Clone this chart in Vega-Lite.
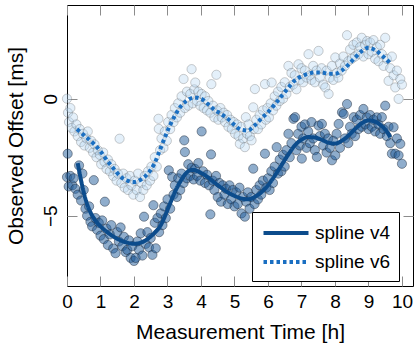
{
  "$schema": "https://vega.github.io/schema/vega-lite/v6.json",
  "width": 346,
  "height": 281,
  "autosize": "none",
  "padding": {"left": 67, "top": 5, "right": 2, "bottom": 59},
  "background": "white",
  "config": {
    "view": {"stroke": "black", "strokeWidth": 1},
    "font": "Liberation Sans",
    "axis": {"labelFont": "Liberation Sans", "titleFont": "Liberation Sans", "labelFontSize": 19, "titleFontSize": 21, "titleFontWeight": "normal", "labelColor": "black", "titleColor": "black", "grid": false, "domain": false, "tickColor": "#8c8c8c", "tickSize": -10, "tickWidth": 1}
  },
  "datasets": {
    "v4": [
      {"x":0.00,"y":-3.35},{"x":0.02,"y":-2.35},{"x":0.05,"y":-3.75},{"x":0.10,"y":-3.30},{"x":0.16,"y":-3.70},{"x":0.20,"y":-3.40},{"x":0.25,"y":-3.85},{"x":0.32,"y":-4.10},{"x":0.36,"y":-2.85},{"x":0.42,"y":-4.35},{"x":0.46,"y":-3.20},{"x":0.50,"y":-3.90},{"x":0.55,"y":-4.70},{"x":0.60,"y":-5.00},{"x":0.66,"y":-4.60},{"x":0.70,"y":-5.26},{"x":0.75,"y":-5.45},{"x":0.80,"y":-3.48},{"x":0.85,"y":-5.10},{"x":0.90,"y":-5.60},{"x":0.95,"y":-5.30},{"x":1.00,"y":-5.85},{"x":1.05,"y":-5.20},{"x":1.10,"y":-6.00},{"x":1.13,"y":-4.40},{"x":1.18,"y":-5.55},{"x":1.22,"y":-6.25},{"x":1.28,"y":-5.80},{"x":1.32,"y":-5.40},{"x":1.38,"y":-6.40},{"x":1.45,"y":-6.60},{"x":1.50,"y":-5.70},{"x":1.55,"y":-6.10},{"x":1.60,"y":-5.50},{"x":1.65,"y":-6.30},{"x":1.70,"y":-5.90},{"x":1.75,"y":-6.55},{"x":1.80,"y":-6.46},{"x":1.85,"y":-6.05},{"x":1.90,"y":-6.80},{"x":1.95,"y":-6.30},{"x":2.00,"y":-6.93},{"x":2.05,"y":-6.80},{"x":2.10,"y":-6.10},{"x":2.15,"y":-6.45},{"x":2.20,"y":-5.75},{"x":2.25,"y":-6.70},{"x":2.30,"y":-5.04},{"x":2.35,"y":-6.20},{"x":2.40,"y":-5.70},{"x":2.45,"y":-6.35},{"x":2.50,"y":-5.95},{"x":2.55,"y":-6.67},{"x":2.58,"y":-4.55},{"x":2.62,"y":-5.30},{"x":2.65,"y":-6.39},{"x":2.70,"y":-5.10},{"x":2.75,"y":-5.70},{"x":2.80,"y":-4.90},{"x":2.85,"y":-5.40},{"x":2.90,"y":-4.60},{"x":2.95,"y":-5.10},{"x":3.00,"y":-4.30},{"x":3.04,"y":-3.06},{"x":3.08,"y":-4.70},{"x":3.14,"y":-3.34},{"x":3.18,"y":-4.10},{"x":3.22,"y":-3.70},{"x":3.28,"y":-4.20},{"x":3.32,"y":-3.40},{"x":3.38,"y":-3.90},{"x":3.42,"y":-3.20},{"x":3.48,"y":-3.60},{"x":3.50,"y":-1.78},{"x":3.52,"y":-2.28},{"x":3.58,"y":-3.40},{"x":3.62,"y":-2.80},{"x":3.68,"y":-3.30},{"x":3.72,"y":-2.95},{"x":3.78,"y":-3.45},{"x":3.82,"y":-3.00},{"x":3.88,"y":-3.30},{"x":3.92,"y":-2.75},{"x":3.98,"y":-3.50},{"x":4.02,"y":-1.40},{"x":4.06,"y":-3.10},{"x":4.12,"y":-3.60},{"x":4.18,"y":-3.25},{"x":4.24,"y":-3.70},{"x":4.28,"y":-4.94},{"x":4.30,"y":-2.38},{"x":4.35,"y":-3.50},{"x":4.40,"y":-3.90},{"x":4.45,"y":-3.30},{"x":4.50,"y":-4.20},{"x":4.55,"y":-3.60},{"x":4.60,"y":-4.40},{"x":4.65,"y":-3.70},{"x":4.70,"y":-4.10},{"x":4.75,"y":-3.85},{"x":4.80,"y":-4.50},{"x":4.85,"y":-3.70},{"x":4.90,"y":-4.30},{"x":4.95,"y":-3.90},{"x":5.00,"y":-4.60},{"x":5.05,"y":-4.00},{"x":5.10,"y":-4.50},{"x":5.15,"y":-3.80},{"x":5.21,"y":-4.90},{"x":5.25,"y":-4.20},{"x":5.31,"y":-5.04},{"x":5.35,"y":-4.40},{"x":5.40,"y":-4.00},{"x":5.45,"y":-4.70},{"x":5.50,"y":-4.20},{"x":5.56,"y":-2.99},{"x":5.60,"y":-4.50},{"x":5.65,"y":-3.90},{"x":5.70,"y":-4.30},{"x":5.75,"y":-3.70},{"x":5.80,"y":-4.10},{"x":5.85,"y":-3.50},{"x":5.91,"y":-2.35},{"x":5.95,"y":-3.80},{"x":6.00,"y":-3.40},{"x":6.05,"y":-3.90},{"x":6.10,"y":-3.10},{"x":6.15,"y":-3.60},{"x":6.20,"y":-2.90},{"x":6.26,"y":-2.07},{"x":6.30,"y":-3.20},{"x":6.35,"y":-2.60},{"x":6.40,"y":-3.10},{"x":6.45,"y":-2.40},{"x":6.50,"y":-2.90},{"x":6.55,"y":-2.20},{"x":6.61,"y":-1.50},{"x":6.65,"y":-2.50},{"x":6.70,"y":-1.90},{"x":6.76,"y":-0.86},{"x":6.81,"y":-0.79},{"x":6.85,"y":-2.20},{"x":6.90,"y":-1.50},{"x":6.95,"y":-2.00},{"x":7.00,"y":-1.20},{"x":7.01,"y":-2.56},{"x":7.05,"y":-1.70},{"x":7.10,"y":-1.10},{"x":7.15,"y":-2.10},{"x":7.20,"y":-1.40},{"x":7.25,"y":-1.90},{"x":7.30,"y":-1.00},{"x":7.35,"y":-1.70},{"x":7.40,"y":-2.20},{"x":7.46,"y":-2.49},{"x":7.51,"y":-1.15},{"x":7.55,"y":-1.60},{"x":7.61,"y":-1.08},{"x":7.65,"y":-2.00},{"x":7.70,"y":-1.50},{"x":7.75,"y":-2.30},{"x":7.80,"y":-1.70},{"x":7.85,"y":-2.10},{"x":7.91,"y":-2.63},{"x":7.95,"y":-1.80},{"x":8.01,"y":-2.42},{"x":8.05,"y":-1.50},{"x":8.11,"y":-1.08},{"x":8.15,"y":-2.10},{"x":8.21,"y":-0.58},{"x":8.26,"y":-0.65},{"x":8.30,"y":-1.70},{"x":8.36,"y":-0.23},{"x":8.40,"y":-1.90},{"x":8.45,"y":-1.20},{"x":8.50,"y":-1.50},{"x":8.56,"y":-0.79},{"x":8.60,"y":-1.60},{"x":8.65,"y":-0.90},{"x":8.70,"y":-1.30},{"x":8.75,"y":-0.70},{"x":8.80,"y":-1.20},{"x":8.85,"y":-0.44},{"x":8.90,"y":-1.10},{"x":8.95,"y":-0.80},{"x":9.00,"y":-1.30},{"x":9.05,"y":-0.70},{"x":9.10,"y":-1.20},{"x":9.15,"y":-0.90},{"x":9.20,"y":-1.40},{"x":9.25,"y":-0.80},{"x":9.30,"y":-1.10},{"x":9.35,"y":-1.50},{"x":9.40,"y":-0.79},{"x":9.45,"y":-1.30},{"x":9.50,"y":-0.30},{"x":9.55,"y":-1.60},{"x":9.60,"y":-1.20},{"x":9.65,"y":-1.90},{"x":9.70,"y":-2.35},{"x":9.75,"y":-1.22},{"x":9.80,"y":-2.35},{"x":9.85,"y":-1.70},{"x":9.90,"y":-2.42},{"x":9.95,"y":-1.93},{"x":10.00,"y":-2.78}
    ],
    "v6": [
      {"x":0.00,"y":0.00},{"x":0.03,"y":-0.60},{"x":0.06,"y":-1.00},{"x":0.10,"y":-0.40},{"x":0.14,"y":-1.25},{"x":0.18,"y":-0.80},{"x":0.22,"y":-1.40},{"x":0.28,"y":-1.10},{"x":0.32,"y":-1.60},{"x":0.38,"y":-1.30},{"x":0.42,"y":-1.85},{"x":0.48,"y":-1.50},{"x":0.52,"y":-2.00},{"x":0.58,"y":-1.70},{"x":0.62,"y":-1.40},{"x":0.68,"y":-2.10},{"x":0.72,"y":-1.80},{"x":0.78,"y":-2.30},{"x":0.82,"y":-1.95},{"x":0.88,"y":-2.50},{"x":0.92,"y":-2.20},{"x":0.98,"y":-2.40},{"x":1.02,"y":-2.80},{"x":1.08,"y":-2.30},{"x":1.12,"y":-2.70},{"x":1.18,"y":-3.00},{"x":1.22,"y":-2.60},{"x":1.28,"y":-3.10},{"x":1.32,"y":-2.80},{"x":1.38,"y":-3.30},{"x":1.42,"y":-3.00},{"x":1.48,"y":-3.50},{"x":1.52,"y":-3.20},{"x":1.57,"y":-1.71},{"x":1.62,"y":-3.60},{"x":1.68,"y":-3.20},{"x":1.72,"y":-3.80},{"x":1.78,"y":-3.40},{"x":1.82,"y":-3.90},{"x":1.88,"y":-3.30},{"x":1.92,"y":-3.70},{"x":1.98,"y":-4.10},{"x":2.02,"y":-3.50},{"x":2.08,"y":-3.90},{"x":2.12,"y":-3.20},{"x":2.18,"y":-4.20},{"x":2.22,"y":-3.60},{"x":2.28,"y":-3.90},{"x":2.32,"y":-3.30},{"x":2.38,"y":-3.70},{"x":2.42,"y":-3.10},{"x":2.48,"y":-3.50},{"x":2.52,"y":-2.90},{"x":2.58,"y":-3.30},{"x":2.62,"y":-2.50},{"x":2.68,"y":-2.90},{"x":2.73,"y":-0.86},{"x":2.74,"y":-1.29},{"x":2.78,"y":-2.20},{"x":2.82,"y":-1.70},{"x":2.88,"y":-2.10},{"x":2.92,"y":-1.40},{"x":2.98,"y":-1.80},{"x":3.02,"y":-1.00},{"x":3.08,"y":-1.30},{"x":3.12,"y":-0.70},{"x":3.18,"y":-1.00},{"x":3.22,"y":-0.40},{"x":3.28,"y":-0.80},{"x":3.32,"y":-0.20},{"x":3.38,"y":-0.60},{"x":3.42,"y":0.10},{"x":3.48,"y":0.84},{"x":3.52,"y":-0.40},{"x":3.58,"y":0.30},{"x":3.62,"y":-0.30},{"x":3.68,"y":0.20},{"x":3.72,"y":1.26},{"x":3.76,"y":-0.20},{"x":3.80,"y":0.40},{"x":3.83,"y":0.69},{"x":3.88,"y":-0.10},{"x":3.92,"y":0.30},{"x":3.98,"y":-0.30},{"x":4.02,"y":0.20},{"x":4.08,"y":-0.40},{"x":4.12,"y":0.10},{"x":4.18,"y":-0.50},{"x":4.22,"y":-0.10},{"x":4.28,"y":-0.60},{"x":4.31,"y":0.62},{"x":4.36,"y":-0.30},{"x":4.40,"y":-0.80},{"x":4.46,"y":1.02},{"x":4.48,"y":-0.50},{"x":4.52,"y":-0.90},{"x":4.58,"y":-0.40},{"x":4.62,"y":-0.80},{"x":4.68,"y":-0.60},{"x":4.72,"y":-1.00},{"x":4.78,"y":-0.70},{"x":4.82,"y":-1.20},{"x":4.88,"y":-0.90},{"x":4.92,"y":-1.30},{"x":4.98,"y":-1.00},{"x":5.02,"y":-1.50},{"x":5.08,"y":-1.10},{"x":5.12,"y":-1.60},{"x":5.16,"y":-1.93},{"x":5.20,"y":-1.20},{"x":5.26,"y":-1.70},{"x":5.31,"y":-2.07},{"x":5.34,"y":-0.79},{"x":5.38,"y":-1.50},{"x":5.42,"y":-1.10},{"x":5.46,"y":-1.60},{"x":5.51,"y":-1.78},{"x":5.56,"y":-0.37},{"x":5.58,"y":-1.30},{"x":5.61,"y":0.41},{"x":5.65,"y":-0.90},{"x":5.70,"y":-1.30},{"x":5.75,"y":-0.70},{"x":5.80,"y":-1.10},{"x":5.85,"y":-0.50},{"x":5.91,"y":0.62},{"x":5.94,"y":-0.90},{"x":5.98,"y":-0.40},{"x":6.03,"y":-0.80},{"x":6.08,"y":-0.20},{"x":6.11,"y":0.69},{"x":6.15,"y":-0.50},{"x":6.20,"y":0.10},{"x":6.25,"y":-0.30},{"x":6.30,"y":0.30},{"x":6.35,"y":-0.10},{"x":6.40,"y":0.50},{"x":6.45,"y":0.00},{"x":6.50,"y":0.70},{"x":6.55,"y":0.20},{"x":6.61,"y":1.40},{"x":6.65,"y":0.50},{"x":6.70,"y":1.10},{"x":6.75,"y":0.60},{"x":6.80,"y":1.00},{"x":6.85,"y":0.40},{"x":6.91,"y":1.47},{"x":6.95,"y":0.80},{"x":7.00,"y":1.30},{"x":7.05,"y":0.70},{"x":7.10,"y":1.20},{"x":7.15,"y":0.90},{"x":7.21,"y":1.90},{"x":7.25,"y":1.00},{"x":7.30,"y":0.80},{"x":7.35,"y":1.40},{"x":7.40,"y":0.70},{"x":7.45,"y":1.20},{"x":7.51,"y":2.04},{"x":7.55,"y":0.90},{"x":7.60,"y":1.30},{"x":7.65,"y":0.60},{"x":7.71,"y":0.48},{"x":7.75,"y":1.20},{"x":7.81,"y":0.20},{"x":7.85,"y":0.90},{"x":7.91,"y":1.40},{"x":7.95,"y":0.80},{"x":8.01,"y":1.76},{"x":8.05,"y":1.10},{"x":8.10,"y":0.90},{"x":8.15,"y":1.50},{"x":8.20,"y":1.20},{"x":8.25,"y":1.80},{"x":8.30,"y":1.40},{"x":8.36,"y":2.71},{"x":8.40,"y":1.60},{"x":8.45,"y":2.10},{"x":8.50,"y":1.70},{"x":8.55,"y":2.30},{"x":8.60,"y":1.80},{"x":8.65,"y":2.40},{"x":8.70,"y":1.90},{"x":8.75,"y":2.20},{"x":8.80,"y":2.60},{"x":8.85,"y":1.80},{"x":8.90,"y":2.30},{"x":8.96,"y":2.46},{"x":9.00,"y":1.90},{"x":9.05,"y":2.40},{"x":9.10,"y":2.00},{"x":9.15,"y":2.50},{"x":9.20,"y":1.70},{"x":9.25,"y":2.20},{"x":9.30,"y":1.60},{"x":9.35,"y":2.30},{"x":9.40,"y":1.90},{"x":9.45,"y":1.40},{"x":9.50,"y":2.60},{"x":9.55,"y":1.70},{"x":9.60,"y":0.76},{"x":9.65,"y":1.30},{"x":9.70,"y":1.80},{"x":9.75,"y":1.00},{"x":9.80,"y":0.48},{"x":9.85,"y":1.20},{"x":9.90,"y":-0.01},{"x":9.95,"y":0.84},{"x":10.00,"y":0.60}
    ],
    "splines": [
      {"s":"spline v4","x":0.32,"y":-2.75},{"s":"spline v4","x":0.4,"y":-3.35},{"s":"spline v4","x":0.5,"y":-4.0},{"s":"spline v4","x":0.6,"y":-4.5},{"s":"spline v4","x":0.7,"y":-4.85},{"s":"spline v4","x":0.8,"y":-5.1},{"s":"spline v4","x":0.9,"y":-5.3},{"s":"spline v4","x":1.0,"y":-5.45},{"s":"spline v4","x":1.2,"y":-5.7},{"s":"spline v4","x":1.4,"y":-5.9},{"s":"spline v4","x":1.6,"y":-6.05},{"s":"spline v4","x":1.8,"y":-6.15},{"s":"spline v4","x":2.0,"y":-6.2},{"s":"spline v4","x":2.2,"y":-6.15},{"s":"spline v4","x":2.4,"y":-6.0},{"s":"spline v4","x":2.6,"y":-5.75},{"s":"spline v4","x":2.8,"y":-5.4},{"s":"spline v4","x":2.9,"y":-5.1},{"s":"spline v4","x":3.0,"y":-4.75},{"s":"spline v4","x":3.1,"y":-4.4},{"s":"spline v4","x":3.2,"y":-4.05},{"s":"spline v4","x":3.3,"y":-3.75},{"s":"spline v4","x":3.4,"y":-3.5},{"s":"spline v4","x":3.5,"y":-3.28},{"s":"spline v4","x":3.6,"y":-3.12},{"s":"spline v4","x":3.7,"y":-3.05},{"s":"spline v4","x":3.8,"y":-3.05},{"s":"spline v4","x":3.9,"y":-3.1},{"s":"spline v4","x":4.0,"y":-3.17},{"s":"spline v4","x":4.2,"y":-3.35},{"s":"spline v4","x":4.4,"y":-3.58},{"s":"spline v4","x":4.6,"y":-3.8},{"s":"spline v4","x":4.8,"y":-4.0},{"s":"spline v4","x":5.0,"y":-4.15},{"s":"spline v4","x":5.2,"y":-4.26},{"s":"spline v4","x":5.4,"y":-4.3},{"s":"spline v4","x":5.6,"y":-4.2},{"s":"spline v4","x":5.8,"y":-4.0},{"s":"spline v4","x":6.0,"y":-3.7},{"s":"spline v4","x":6.2,"y":-3.3},{"s":"spline v4","x":6.4,"y":-2.85},{"s":"spline v4","x":6.6,"y":-2.4},{"s":"spline v4","x":6.8,"y":-2.0},{"s":"spline v4","x":7.0,"y":-1.75},{"s":"spline v4","x":7.2,"y":-1.64},{"s":"spline v4","x":7.4,"y":-1.66},{"s":"spline v4","x":7.6,"y":-1.75},{"s":"spline v4","x":7.8,"y":-1.88},{"s":"spline v4","x":8.0,"y":-1.92},{"s":"spline v4","x":8.2,"y":-1.8},{"s":"spline v4","x":8.4,"y":-1.58},{"s":"spline v4","x":8.6,"y":-1.3},{"s":"spline v4","x":8.8,"y":-1.05},{"s":"spline v4","x":9.0,"y":-0.93},{"s":"spline v4","x":9.2,"y":-0.98},{"s":"spline v4","x":9.4,"y":-1.18},{"s":"spline v4","x":9.5,"y":-1.32},{"s":"spline v4","x":9.6,"y":-1.52},{"s":"spline v4","x":9.65,"y":-1.65},
      {"s":"spline v6","x":0.3,"y":-1.3},{"s":"spline v6","x":0.5,"y":-1.55},{"s":"spline v6","x":0.8,"y":-1.93},{"s":"spline v6","x":1.0,"y":-2.25},{"s":"spline v6","x":1.2,"y":-2.65},{"s":"spline v6","x":1.4,"y":-3.0},{"s":"spline v6","x":1.6,"y":-3.33},{"s":"spline v6","x":1.8,"y":-3.5},{"s":"spline v6","x":2.0,"y":-3.56},{"s":"spline v6","x":2.2,"y":-3.46},{"s":"spline v6","x":2.4,"y":-3.22},{"s":"spline v6","x":2.6,"y":-2.8},{"s":"spline v6","x":2.8,"y":-2.1},{"s":"spline v6","x":3.0,"y":-1.38},{"s":"spline v6","x":3.2,"y":-0.78},{"s":"spline v6","x":3.4,"y":-0.32},{"s":"spline v6","x":3.6,"y":-0.06},{"s":"spline v6","x":3.8,"y":0.05},{"s":"spline v6","x":4.0,"y":0.0},{"s":"spline v6","x":4.2,"y":-0.22},{"s":"spline v6","x":4.4,"y":-0.47},{"s":"spline v6","x":4.6,"y":-0.65},{"s":"spline v6","x":4.8,"y":-0.86},{"s":"spline v6","x":5.0,"y":-1.12},{"s":"spline v6","x":5.2,"y":-1.33},{"s":"spline v6","x":5.4,"y":-1.36},{"s":"spline v6","x":5.6,"y":-1.15},{"s":"spline v6","x":5.8,"y":-0.85},{"s":"spline v6","x":6.0,"y":-0.58},{"s":"spline v6","x":6.2,"y":-0.25},{"s":"spline v6","x":6.4,"y":0.1},{"s":"spline v6","x":6.6,"y":0.45},{"s":"spline v6","x":6.8,"y":0.78},{"s":"spline v6","x":7.0,"y":0.95},{"s":"spline v6","x":7.2,"y":1.06},{"s":"spline v6","x":7.4,"y":1.12},{"s":"spline v6","x":7.6,"y":1.12},{"s":"spline v6","x":7.8,"y":1.06},{"s":"spline v6","x":8.0,"y":1.06},{"s":"spline v6","x":8.2,"y":1.2},{"s":"spline v6","x":8.4,"y":1.45},{"s":"spline v6","x":8.6,"y":1.75},{"s":"spline v6","x":8.8,"y":2.03},{"s":"spline v6","x":9.0,"y":2.17},{"s":"spline v6","x":9.2,"y":2.07},{"s":"spline v6","x":9.4,"y":1.85},{"s":"spline v6","x":9.6,"y":1.58},{"s":"spline v6","x":9.65,"y":1.5}
    ]
  },
  "layer": [
    {
      "data": {"name": "v6"},
      "mark": {"type": "circle", "size": 85, "fill": "#b9d7f2", "fillOpacity": 0.38, "stroke": "#5a5a5a", "strokeOpacity": 0.3, "strokeWidth": 1},
      "encoding": {
        "x": {"field": "x", "type": "quantitative", "scale": {"domain": [0, 10.33], "nice": false, "zero": false},
          "axis": {"orient": "bottom", "values": [0,1,2,3,4,5,6,7,8,9,10], "title": "Measurement Time [h]", "labelPadding": 16, "titlePadding": 10, "labelFlush": false}},
        "y": {"field": "y", "type": "quantitative", "scale": {"domain": [-8, 4], "nice": false, "zero": false},
          "axis": {"orient": "left", "values": [-5, 0], "title": "Observed Offset [ms]", "labelAngle": 270, "labelAlign": "center", "labelBaseline": "bottom", "labelPadding": 17, "titlePadding": 15, "format": "d"}}
      }
    },
    {
      "data": {"name": "v4"},
      "mark": {"type": "circle", "size": 85, "fill": "#1f5c9a", "fillOpacity": 0.5, "stroke": "#1a2635", "strokeOpacity": 0.45, "strokeWidth": 1},
      "encoding": {
        "x": {"field": "x", "type": "quantitative", "axis": {"orient": "top", "values": [0,1,2,3,4,5,6,7,8,9,10], "labels": false, "title": null}},
        "y": {"field": "y", "type": "quantitative", "axis": {"orient": "right", "values": [-5, 0], "labels": false, "title": null}}
      }
    },
    {
      "data": {"name": "splines"},
      "mark": {"type": "line", "strokeWidth": 4, "interpolate": "monotone"},
      "encoding": {
        "x": {"field": "x", "type": "quantitative", "axis": null},
        "y": {"field": "y", "type": "quantitative", "axis": null},
        "color": {"field": "s", "type": "nominal", "scale": {"domain": ["spline v4", "spline v6"], "range": ["#0c4c8c", "#1a6fc2"]},
          "legend": {"orient": "none", "legendX": 185, "legendY": 207, "title": null, "strokeColor": "black", "fillColor": "white", "padding": 9, "labelFont": "Liberation Sans", "labelFontSize": 19, "labelColor": "black", "symbolType": "M-2.25,0H2.25", "symbolSize": 400, "symbolStrokeWidth": 4, "symbolOffset": 13, "labelOffset": 17, "rowPadding": 7}},
        "strokeDash": {"field": "s", "type": "nominal", "scale": {"domain": ["spline v4", "spline v6"], "range": [[1, 0], [3.5, 3]]}, "legend": null}
      }
    }
  ],
  "resolve": {"axis": {"x": "independent", "y": "independent"}}
}
